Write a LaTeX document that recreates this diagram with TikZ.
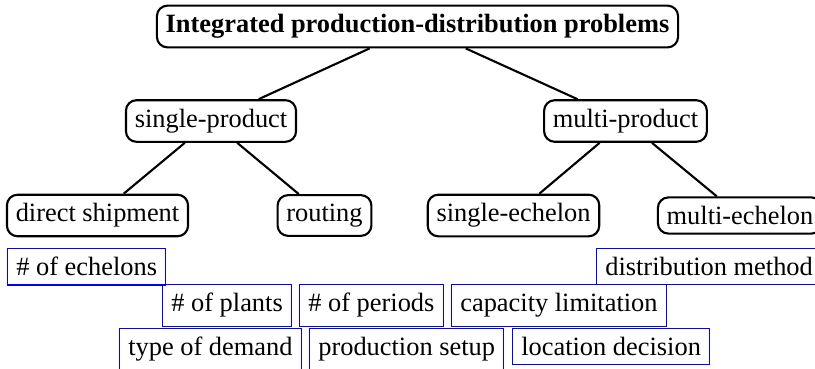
\documentclass[tikz,border=0pt]{standalone}
\usepackage{fontspec}
\setmainfont{Liberation Serif}
\begin{document}
\begin{tikzpicture}[x=0.37879pt,y=-0.37879pt,
  catbox/.style={draw=black,line width=0.8pt,rounded corners=4pt},
  attrbox/.style={draw=blue,line width=0.4pt,anchor=north west},
  link/.style={draw=black,line width=0.8pt}]
\useasboundingbox (0,0) rectangle (815,369);
\node[catbox,font=\bfseries] (root) at (417.5,26.5) {Integrated production-distribution problems};
\node[catbox] (sp) at (211,121) {single-product};
\node[catbox] (mp) at (625.5,121) {multi-product};
\node[catbox] (ds) at (97.5,215.5) {direct shipment};
\node[catbox] (rt) at (324.5,215.5) {routing};
\node[catbox] (se) at (513.5,215.5) {single-echelon};
\node[catbox] (me) at (740,215.5) {multi-echelon};
\draw[link] (root) -- (sp);
\draw[link] (root) -- (mp);
\draw[link] (sp) -- (ds);
\draw[link] (sp) -- (rt);
\draw[link] (mp) -- (se);
\draw[link] (mp) -- (me);
\node[attrbox] (ech) at (7,248) {\# of echelons};
\node[attrbox] (dist) at (596,248) {distribution method};
\node[attrbox] (plants) at (162,284) {\# of plants};
\node[attrbox] (periods) at (299,284) {\# of periods};
\node[attrbox] (cap) at (451,284) {capacity limitation};
\node[attrbox] (dem) at (119,328) {type of demand};
\node[attrbox] (setup) at (309,328) {production setup};
\node[attrbox] (loc) at (512,328) {location decision};
\end{tikzpicture}
\end{document}
